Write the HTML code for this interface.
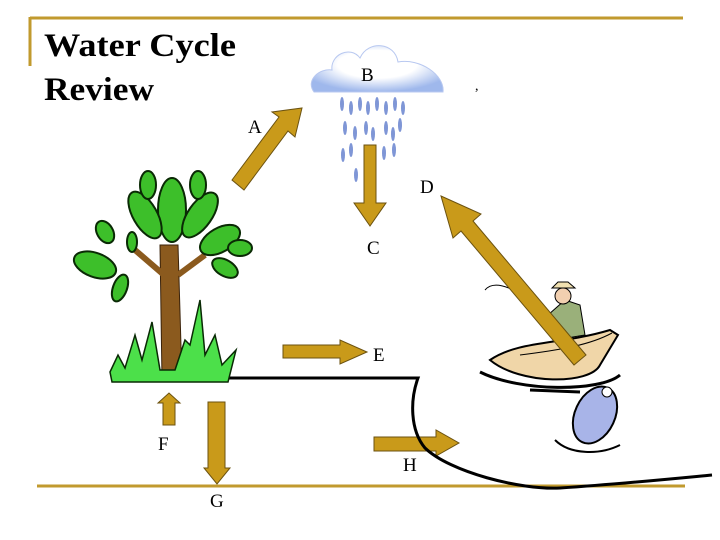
<!DOCTYPE html>
<html><head><style>body{margin:0;background:#fff}svg{display:block}</style></head><body>
<svg width="720" height="540" viewBox="0 0 720 540" xmlns="http://www.w3.org/2000/svg" font-family="Liberation Serif, serif">
<rect width="720" height="540" fill="#fff"/>
<line x1="30" y1="18" x2="683" y2="18" stroke="#c19a2e" stroke-width="3"/>
<line x1="30" y1="17" x2="30" y2="66" stroke="#c19a2e" stroke-width="3"/>
<line x1="37" y1="486" x2="685" y2="486" stroke="#c19a2e" stroke-width="3"/>
<text x="44" y="56" font-size="33" font-weight="bold" textLength="192" lengthAdjust="spacingAndGlyphs">Water Cycle</text>
<text x="44" y="100" font-size="33" font-weight="bold" textLength="110" lengthAdjust="spacingAndGlyphs">Review</text>
<defs><radialGradient id="cg" cx="50%" cy="40%" r="60%"><stop offset="0.5" stop-color="#fff"/><stop offset="1" stop-color="#9fb8ec"/></radialGradient></defs>
<path d="M314,92 C305,80 320,68 332,70 C330,55 350,45 360,58 C368,40 395,42 398,62 C420,58 445,75 443,92 Z" fill="url(#cg)" stroke="#b8c8f0"/>
<text x="361" y="81" font-size="19">B</text>
<g fill="#7f96d6">
<ellipse cx="342" cy="104" rx="2" ry="7"/><ellipse cx="351" cy="108" rx="2" ry="7"/><ellipse cx="360" cy="104" rx="2" ry="7"/><ellipse cx="368" cy="108" rx="2" ry="7"/><ellipse cx="377" cy="104" rx="2" ry="7"/><ellipse cx="386" cy="108" rx="2" ry="7"/><ellipse cx="395" cy="104" rx="2" ry="7"/><ellipse cx="403" cy="108" rx="2" ry="7"/>
<ellipse cx="345" cy="128" rx="2" ry="7"/><ellipse cx="355" cy="133" rx="2" ry="7"/><ellipse cx="366" cy="128" rx="2" ry="7"/><ellipse cx="373" cy="134" rx="2" ry="7"/><ellipse cx="386" cy="128" rx="2" ry="7"/><ellipse cx="393" cy="134" rx="2" ry="7"/><ellipse cx="400" cy="125" rx="2" ry="7"/>
<ellipse cx="343" cy="155" rx="2" ry="7"/><ellipse cx="351" cy="150" rx="2" ry="7"/><ellipse cx="384" cy="153" rx="2" ry="7"/><ellipse cx="394" cy="150" rx="2" ry="7"/><ellipse cx="356" cy="175" rx="2" ry="7"/>
</g>
<text x="475" y="90" font-size="14">,</text>
<!-- boat & fisherman -->
<path d="M540,310 C520,290 495,278 485,290" fill="none" stroke="#000"/>
<path d="M548,315 L565,300 L580,305 L585,335 L555,340 Z" fill="#9ab07a" stroke="#000"/>
<circle cx="563" cy="296" r="8" fill="#f2d0b0" stroke="#000"/>
<path d="M552,288 L575,288 L568,282 L558,282 Z" fill="#f0e0b0" stroke="#000"/>
<path d="M490,360 C520,385 590,385 600,365 L618,335 L610,330 C560,345 520,340 490,360 Z" fill="#f0d6a8" stroke="#000" stroke-width="2"/>
<path d="M520,355 C560,350 590,345 612,333" stroke="#000" fill="none"/>
<path d="M480,372 C520,392 600,392 620,375 M530,390 L580,392" stroke="#000" stroke-width="3" fill="none"/>
<ellipse cx="595" cy="415" rx="20" ry="30" transform="rotate(25 595 415)" fill="#a8b4e8" stroke="#000" stroke-width="2"/>
<circle cx="607" cy="392" r="5" fill="#fff" stroke="#000"/>
<path d="M555,440 C570,455 600,455 620,445" stroke="#000" stroke-width="2" fill="none"/>
<g fill="#c99a1a" stroke="#6b5210" stroke-width="1">
<polygon points="232,180 279,117 272,112 302,108 295,137 288,131 244,190"/>
<polygon points="364,145 376,145 376,203 386,203 370,226 354,203 364,203"/>
<polygon points="441,196 481,214 473,221 586,355 574,365 461,231 453,238"/>
<polygon points="283,345 340,345 340,340 367,352 340,364 340,358 283,358"/>
<polygon points="163,425 163,403 158,403 169,393 180,403 175,403 175,425"/>
<polygon points="208,402 225,402 225,468 230,468 217,484 204,468 208,468"/>
<polygon points="374,437 436,437 436,430 459,443 436,456 436,451 374,451"/>
</g>
<g font-size="19">
<text x="248" y="133">A</text><text x="420" y="193">D</text><text x="367" y="254">C</text>
<text x="373" y="361">E</text><text x="158" y="450">F</text><text x="210" y="507">G</text><text x="403" y="471">H</text>
</g>
<path d="M225,378 L418,378 C410,400 410,430 425,448 C450,472 520,490 560,488 C620,484 680,478 712,475" fill="none" stroke="#000" stroke-width="3"/>
<path d="M162,380 L160,245 L178,245 L182,380 Z" fill="#8b5a1e" stroke="#3a220a"/>
<path d="M164,275 L135,250 M178,275 L205,255" stroke="#8b5a1e" stroke-width="6"/>
<g fill="#3dbf2a" stroke="#0a2a05" stroke-width="2">
<ellipse cx="172" cy="210" rx="14" ry="32"/>
<ellipse cx="145" cy="215" rx="12" ry="26" transform="rotate(-30 145 215)"/>
<ellipse cx="200" cy="215" rx="12" ry="26" transform="rotate(35 200 215)"/>
<ellipse cx="148" cy="185" rx="8" ry="14"/><ellipse cx="198" cy="185" rx="8" ry="14"/>
<ellipse cx="105" cy="232" rx="8" ry="12" transform="rotate(-30 105 232)"/>
<ellipse cx="95" cy="265" rx="12" ry="22" transform="rotate(-70 95 265)"/>
<ellipse cx="220" cy="240" rx="12" ry="22" transform="rotate(60 220 240)"/>
<ellipse cx="240" cy="248" rx="12" ry="8"/>
<ellipse cx="225" cy="268" rx="8" ry="14" transform="rotate(-60 225 268)"/>
<ellipse cx="120" cy="288" rx="7" ry="14" transform="rotate(20 120 288)"/>
<ellipse cx="132" cy="242" rx="5" ry="10"/>
</g>
<polygon points="110,372 118,355 125,368 135,335 142,360 152,322 160,370 175,370 185,340 190,345 200,300 205,355 215,335 222,365 236,350 228,382 112,382" fill="#4ce04a" stroke="#0a2a05" stroke-width="1.5"/>
</svg>
</body></html>
